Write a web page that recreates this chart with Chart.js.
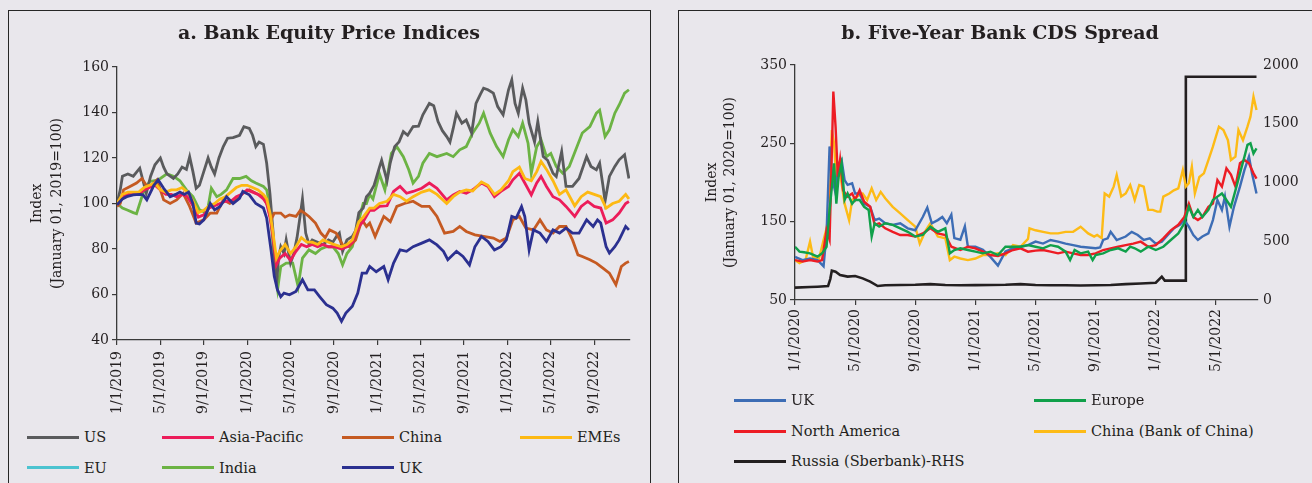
<!DOCTYPE html>
<html>
<head>
<meta charset="utf-8">
<script src="https://cdn.jsdelivr.net/npm/chart.js@4/dist/chart.umd.min.js"></script>
<style>
  body { margin:0; background:#e9e7ec; width:1312px; height:483px; overflow:hidden; position:relative; font-family:'DejaVu Serif', serif; color:#231f20; }
  .panel { position:absolute; top:10px; height:490px; border:1.6px solid #262626; border-bottom:none; box-sizing:border-box; }
  #panelA { left:8px; width:643px; }
  #panelB { left:678px; width:700px; }
  canvas { position:absolute; }
  #equityChart { left:9px; top:12px; }
  #cdsChart { left:684px; top:12px; }
  .lg { position:absolute; display:flex; align-items:center; font-size:14.5px; white-space:nowrap; transform:translateY(-50%); }
  .lg span.sw { display:inline-block; width:52px; height:3px; margin-right:5px; }
</style>
</head>
<body>
<div class="panel" id="panelA"></div>
<div class="panel" id="panelB"></div>
<canvas id="equityChart" width="640" height="410"></canvas>
<canvas id="cdsChart" width="632" height="410"></canvas>
<div id="legendA"></div>
<div id="legendB"></div>
<script>
(function(){
  'use strict';

  // ---- panel a: bank equity price indices (x = months since 1 Jan 2019) ----
  const equityTickMonths = [0, 4, 8, 12, 16, 20, 24, 28, 32, 36, 40, 44];
  const equityTickLabels = ['1/1/2019','5/1/2019','9/1/2019','1/1/2020','5/1/2020','9/1/2020',
    '1/1/2021','5/1/2021','9/1/2021','1/1/2022','5/1/2022','9/1/2022'];

  const eqUS = [[0,100],[0.3,106],[0.5,112],[1,113],[1.5,112],[2.1,115.5],[2.4,110],[2.7,104.5],[3.1,112],[3.5,117],[4,120],[4.3,116],[4.6,113],[5.2,111],[5.6,113],[6,116],[6.4,115],[6.7,120.5],[7,114],[7.3,106.7],[7.6,108],[8,114],[8.4,120],[8.7,116],[9,113],[9.4,120],[9.8,125],[10.2,128.7],[10.7,129],[11.3,130],[11.7,133.8],[12.2,133],[12.5,130],[12.8,125],[13.1,127],[13.5,126],[13.8,117.7],[14.1,104.5],[14.4,87],[14.6,72],[14.75,67],[14.9,76],[15.1,81],[15.4,78],[15.6,84],[16,73.8],[16.3,78],[16.6,85],[16.9,95],[17.1,102],[17.4,87],[17.7,82],[18,84],[18.5,83],[19,82],[19.5,84],[19.9,83],[20.3,86],[20.5,87],[20.8,79],[21.2,84],[21.7,85.5],[22,88],[22.3,96],[22.7,98],[23,103],[23.3,104.5],[23.7,108],[24.2,116],[24.4,119],[24.9,110],[25.2,118],[25.6,125],[26,127],[26.4,131.6],[26.8,130],[27.3,133.8],[27.8,134],[28.2,139],[28.8,144],[29.2,143],[29.6,136],[30,132],[30.4,129.4],[30.7,127],[31,133],[31.3,139.7],[31.8,135.3],[32.2,136.7],[32.7,131],[33.1,144],[33.5,148],[33.8,150.7],[34.2,150],[34.7,148.5],[35.1,142.6],[35.6,139],[36.1,150],[36.4,154.3],[36.7,144],[37,139.7],[37.4,150.7],[37.7,145.5],[38,135.3],[38.5,127],[38.8,136],[39.3,120.6],[39.7,119],[40.2,113.3],[40.5,111.9],[41,122.8],[41.4,107.5],[42,107.5],[42.6,111],[43.3,120.6],[43.7,116.3],[44.2,114.8],[44.5,117.7],[44.8,108],[45,101],[45.4,111.9],[45.9,116.3],[46.3,119.2],[46.8,121.4],[47.2,111]];
  const eqAsiaPac = [[0,100],[0.5,103],[1,104],[1.5,104],[2,104],[2.5,106],[3,107],[3.5,108],[4,106],[4.5,104],[5,104],[5.5,103],[6,104],[6.5,103],[7,99],[7.5,94],[8,95],[8.5,98],[9,99],[9.5,100],[10,101],[10.5,101],[11,103],[11.5,104],[12,106],[12.5,105],[13,104],[13.5,102],[13.8,100],[14.1,94],[14.3,88],[14.7,73],[15,76],[15.5,78],[16,75],[16.5,79],[17,82],[17.5,81],[18,82],[18.5,81],[19,82],[19.5,81],[20,81],[20.7,80],[21.2,81],[21.7,83],[22.3,90],[22.7,92],[23.3,97],[23.7,97],[24.2,98.7],[24.9,99],[25.5,105.3],[26.1,107.5],[26.7,104.5],[27.3,105.3],[28.1,106.7],[28.8,109],[29.5,106.7],[30.4,101.6],[31,103.8],[31.6,105.3],[32.2,104.5],[32.8,106],[33.6,109],[34.2,107.5],[34.8,103],[35.4,105.3],[36.1,107.5],[36.5,110.4],[37.1,113.3],[37.6,109],[38.2,103.8],[38.7,109],[39.1,111.9],[39.6,107.5],[40.2,103],[40.8,101.6],[41.4,98.7],[42.2,94.3],[42.8,98.7],[43.4,100.9],[44,98.7],[44.6,98],[45.1,91.4],[45.7,92.8],[46.3,95.8],[46.9,100],[47.2,100.9]];
  const eqChina = [[0,98.7],[0.3,100],[0.6,106],[1.2,107.5],[1.8,109],[2.3,111],[2.7,108],[3.1,107.5],[3.7,110.4],[4.3,101.6],[4.9,100],[5.5,101.6],[6.1,104.5],[6.7,98.7],[7.3,91.4],[8,92.8],[8.6,95.8],[9.2,95.8],[9.8,101.6],[10.4,100],[11,101.6],[11.6,104.5],[12.2,106],[12.8,104.5],[13.5,103],[13.9,98.7],[14.2,92.8],[14.5,95.8],[15.1,95.8],[15.5,94],[15.9,95],[16.5,94.3],[16.9,97],[17.3,95.8],[17.7,94.3],[18.3,91.4],[18.8,87],[19.2,85],[19.6,88.4],[20.2,87],[20.8,81.8],[21.4,81],[22,84],[22.4,90],[22.6,92.8],[23,89.9],[23.3,91.4],[23.8,85.5],[24.2,90],[24.6,94.3],[25.2,92],[25.8,98.7],[26.5,100],[27.3,101],[28.1,98.7],[28.8,98.7],[29.5,94.3],[30.2,87],[31,87.7],[31.6,89.9],[32.2,87.7],[33,86.2],[33.8,85.5],[34.7,84.8],[35.3,83.3],[35.9,84.8],[36.5,92.8],[37.1,94.3],[37.7,89.2],[38.4,88.4],[39,92.8],[39.6,88.4],[40.2,87],[40.8,89.9],[41.4,89.9],[42,84],[42.5,77.4],[42.9,76.7],[43.6,75.3],[44.2,73.8],[44.8,71.6],[45.4,69.4],[46,64.3],[46.5,72.3],[46.9,73.8],[47.2,74.5]];
  const eqEMEs = [[0,100],[0.5,104],[1,105],[1.5,105],[2,105],[2.5,107],[3,108],[3.5,109],[4,106],[4.5,105],[5,106],[5.5,106],[6,107],[6.5,105],[7,101],[7.5,96],[8,97],[8.5,99],[9,100],[9.5,102],[10,103],[10.5,105],[11,107],[11.5,108],[12,108],[12.5,107],[13,106],[13.5,104],[13.8,102],[14.1,96],[14.3,90],[14.7,76],[15,79],[15.5,82],[16,78],[16.5,81],[17,85],[17.5,83],[18,83],[18.5,82],[19,84],[19.5,83],[20,82],[20.7,81],[21.2,82],[21.7,84],[22.3,92],[22.7,94],[23.3,98],[23.7,98],[24.2,100],[24.9,101],[25.5,104],[26.1,103],[26.7,101],[27.3,103],[28.1,105],[28.8,106],[29.5,104],[30.4,100],[31,103],[31.6,105],[32.2,106],[32.8,105.5],[33.6,109.5],[34.2,108],[34.8,104],[35.4,106],[36.1,110],[36.5,114],[37.1,116],[37.6,111],[38.2,110],[38.7,114],[39.1,118.5],[39.6,115],[40.2,110],[40.8,104],[41.4,106],[42.2,99],[42.8,103],[43.4,105],[44,104],[44.6,103],[45.1,98],[45.7,100],[46.3,101],[46.9,104],[47.2,102]];
  const eqEU = [];
  const eqIndia = [[0,100],[0.5,98],[1,97],[1.5,96],[1.8,95.5],[2.1,100],[2.4,104.5],[3,109.7],[3.5,110],[4,111],[4.6,113],[5.2,112],[5.8,110],[6.4,106],[7,103],[7.6,97.2],[8.3,95.8],[8.7,106.7],[9.2,103],[9.6,104],[10.1,106],[10.7,111],[11.3,111],[11.9,111.9],[12.4,110],[12.8,109],[13.5,107.5],[13.8,106],[14.1,98.7],[14.4,81],[14.7,65],[14.8,62],[15.1,72.3],[15.6,73.8],[16.2,73.8],[16.7,63.5],[17.1,76],[17.7,79.6],[18.3,78],[18.8,80],[19.3,81],[19.9,81],[20.4,78],[20.8,73],[21.2,78],[21.7,81],[22.3,92.8],[22.7,100],[23,100],[23.3,104],[23.6,102],[24.2,113],[24.7,106],[25.3,122],[25.8,125],[26.4,120.6],[26.9,114.8],[27.3,109],[27.8,111.9],[28.2,117.7],[28.8,122],[29.5,120.6],[30.4,122],[31,120.6],[31.6,123.6],[32.2,125],[32.8,131],[33.4,135.3],[33.8,139.7],[34.4,131],[35,125],[35.6,120.6],[36.1,128],[36.5,132.4],[37,129.4],[37.4,135.3],[37.9,126.5],[38.2,113.3],[38.7,125],[39.1,128],[39.6,120.6],[40,122],[40.5,116.3],[41.1,113.3],[41.7,116.3],[42.3,123.6],[42.9,131],[43.6,133.8],[44.2,139.7],[44.5,141],[45,129.4],[45.4,132.4],[45.9,139.7],[46.3,143.3],[46.8,148.5],[47.2,150]];
  const eqUK = [[0,99.4],[0.5,102],[0.9,103],[1.5,103.8],[2.1,104],[2.4,103.8],[2.75,101.6],[3.1,105],[3.4,108],[3.8,110.4],[4.3,106.7],[4.9,103],[5.4,104],[5.8,105],[6.2,104],[6.6,105],[7,100],[7.3,91.4],[7.6,91],[8,92.8],[8.6,100],[9,97.2],[9.5,98.7],[10.1,103],[10.7,100],[11.3,102.3],[11.6,105.3],[12.2,103.8],[12.8,100],[13.5,98],[13.8,93.6],[14.2,79.6],[14.5,68],[14.8,62],[15.1,59],[15.4,60.6],[15.9,59.9],[16.5,61.3],[17.1,66.5],[17.6,62],[18.2,62],[18.7,59],[19.3,55.5],[19.9,54],[20.3,51.8],[20.7,48.2],[21.1,51.8],[21.7,54.8],[22.2,60.6],[22.6,69.4],[23,69.4],[23.3,72.3],[23.9,70],[24.6,72.3],[25,66.5],[25.5,73.8],[26.1,79.6],[26.7,79],[27.3,81],[28.1,82.6],[28.8,84],[29.5,81.8],[30.1,79],[30.5,75.3],[31.3,79],[31.9,76.7],[32.5,73],[33,81],[33.6,85.5],[34.2,83.3],[34.8,79.6],[35.4,81],[35.9,84],[36.4,94.3],[36.8,93.6],[37.3,98.7],[37.6,94.3],[38,79.6],[38.4,88.4],[39,87],[39.6,83.3],[40.2,88.4],[40.8,87],[41.4,89.2],[42,87],[42.6,87],[43.3,92.8],[43.9,89.9],[44.3,92.8],[44.6,91.4],[45.1,81],[45.4,78.2],[45.9,81],[46.3,84],[46.9,89.9],[47.2,88.4]];

  // ---- panel b: five-year bank CDS spread (x = months since 1 Jan 2020) ----
  const cdsTickMonths = [0, 4, 8, 12, 16, 20, 24, 28];
  const cdsTickLabels = ['1/1/2020','5/1/2020','9/1/2020','1/1/2021','5/1/2021','9/1/2021','1/1/2022','5/1/2022'];

  const cdsUK = [[0,105],[0.5,101],[1,103],[1.5,101],[1.9,93],[2.1,135],[2.3,246],[2.5,203],[2.7,186],[2.9,224],[3.1,229],[3.3,203],[3.5,197],[3.8,199],[4,186],[4.3,186],[4.6,173],[5,169],[5.3,152],[5.6,154],[6,148],[6.5,146],[7,148],[7.5,141.5],[8,139],[8.5,156],[8.8,168],[9.1,148],[9.5,152],[9.8,156],[10.1,148],[10.4,159],[10.6,129],[11,127],[11.3,144],[11.5,118],[12,118],[12.5,114],[13,105],[13.5,94],[14,112],[14.5,116],[15,118],[15.5,120],[16,124.5],[16.5,122],[17,126.6],[17.5,124.5],[18,122],[18.5,120],[19,118],[19.5,117],[20,116],[20.3,117],[20.5,126.6],[20.8,128.7],[21,137],[21.4,126.6],[22,131],[22.4,137],[22.8,133],[23.2,126.6],[23.6,128.7],[24,122],[24.4,124.5],[24.8,133],[25.2,141.5],[25.6,146],[25.9,152],[26.2,143.6],[26.5,133],[26.8,126.6],[27.1,131],[27.5,135],[27.8,152],[28.1,177.7],[28.4,165],[28.6,182],[28.9,143.6],[29.2,169],[29.6,194.7],[29.9,216],[30.2,233],[30.4,211.7],[30.7,186]];
  const cdsEurope = [[0,118],[0.3,111.7],[0.6,111],[1,109.6],[1.5,105.3],[1.8,109.6],[2.1,118],[2.3,165],[2.5,203],[2.6,224.5],[2.75,173],[2.9,207],[3.1,224.5],[3.3,177.7],[3.5,186],[3.8,173],[4,177.7],[4.3,177.7],[4.6,169],[4.9,165],[5.1,131],[5.3,148],[5.6,143.6],[6,148],[6.5,146],[7,141.5],[7.5,137],[8,131],[8.5,133],[9,143.6],[9.5,137],[10,141.5],[10.3,109.6],[10.6,113.8],[11,116],[11.5,113.8],[12,111.7],[12.5,109.6],[13,111.7],[13.5,107.4],[14,118],[14.5,118],[15,118],[15.5,120],[16,118],[16.5,116],[17,120],[17.5,118],[18,111.7],[18.3,101],[18.6,113.8],[19,109.6],[19.5,111.7],[19.8,101],[20,107.4],[20.5,109.6],[21,113.8],[21.5,116],[22,111.7],[22.3,118],[22.6,116],[23,111.7],[23.5,118],[24,113.8],[24.5,118],[25,126.6],[25.5,135],[25.9,148],[26.2,169],[26.5,156],[26.8,165],[27.1,156],[27.5,165],[27.8,177.7],[28.1,182],[28.4,186],[28.7,177.7],[29,169],[29.3,190],[29.6,211.7],[29.9,233],[30.1,248],[30.3,250],[30.5,237],[30.7,243.6]];
  const cdsNorthAm = [[0,101],[0.5,99],[1,101],[1.5,99],[1.8,101],[2.1,139],[2.3,127],[2.45,237],[2.55,316],[2.7,271],[2.85,207],[3,229],[3.2,190],[3.5,182],[3.8,186],[4,178],[4.3,190],[4.6,175.5],[5,169],[5.3,146],[5.6,148],[6,141.5],[6.5,137],[7,133],[7.5,133],[8,131],[8.5,135],[9,141.5],[9.5,135],[10,133],[10.4,118],[11,113.8],[11.5,118],[12,116],[12.5,111.7],[13,107.4],[13.5,106],[14,109.6],[14.5,113.8],[15,116],[15.5,111.7],[16,113],[16.5,113.8],[17,111.7],[17.5,109.6],[18,111.7],[18.5,109.6],[19,107.4],[19.5,107.4],[20,109.6],[20.5,113.8],[21,116],[21.5,118],[22,120],[22.5,122],[23,124.5],[23.5,118],[24,120],[24.5,128.7],[25,139],[25.5,146],[25.9,156],[26.2,173],[26.5,156],[26.8,152],[27.1,156],[27.5,169],[27.8,173],[28.1,203],[28.4,194.7],[28.7,218],[29,210],[29.3,194.7],[29.6,224.5],[29.9,228.7],[30.2,224.5],[30.5,211.7],[30.7,205]];
  const cdsChina = [[0,101],[0.3,97],[0.7,101],[1,124.5],[1.2,105],[1.6,103],[1.9,126.6],[2.1,141.5],[2.3,169],[2.45,267],[2.6,250],[2.75,203],[2.9,220],[3.1,199],[3.3,173],[3.6,152],[3.8,177.7],[4.1,182],[4.5,186],[4.8,177.7],[5.1,192.6],[5.4,177.7],[5.7,188],[6,180],[6.5,169],[7,160.6],[7.5,152],[8,143.6],[8.3,122],[8.7,139],[9,148],[9.5,131],[10,128.7],[10.3,101],[10.6,105.3],[11,103],[11.5,101],[12,103],[12.5,107.4],[13,107.4],[13.5,109.6],[14,107.4],[14.5,120],[15,118],[15.5,128],[15.6,141.5],[16,139],[16.5,137],[17,135],[17.5,135],[18,137],[18.5,137],[19,143.6],[19.5,135],[19.9,131],[20.1,133],[20.4,129],[20.6,186],[20.9,182],[21.2,194.7],[21.4,209.6],[21.7,182],[22,186],[22.3,196.8],[22.6,177.7],[22.9,196.8],[23.2,194.7],[23.5,165],[23.8,165],[24.1,162.8],[24.3,162.8],[24.5,182],[24.9,186],[25.2,190],[25.5,192.6],[25.8,216],[26,194.7],[26.2,199],[26.4,220],[26.6,186],[26.9,207],[27.2,211.7],[27.5,228.7],[27.8,245.7],[28,258.5],[28.2,271.3],[28.5,267],[28.8,254],[29,228.7],[29.3,233],[29.5,267],[29.8,254],[30.1,271.3],[30.3,284],[30.5,309.6],[30.7,292.6]];
  const cdsRussia = [[0,105],[1,110],[1.5,113],[2.2,119],[2.35,180],[2.45,250],[2.7,241],[3,213],[3.5,199],[4,204],[4.5,184],[5,156],[5.5,119],[6,125],[7,128],[8,130],[9,135],[10,128],[11,125],[12,127],[13,128],[14,130],[15,135],[16,128],[17,126],[18,125],[19,124],[20,125],[21,128],[22,135],[23,140],[24,147],[24.4,199],[24.6,165],[25,165],[25.95,165],[26,1900],[30.7,1900]];

  const FONT = "'DejaVu Serif', serif";
  const INK = '#231f20';
  const AXIS = '#3a3a3a';

  Chart.defaults.font.family = FONT;
  Chart.defaults.color = INK;

  function pts(arr){ return arr.map(p => ({ x: p[0], y: p[1] })); }

  function line(label, arr, color, order, width, axis){
    return {
      label: label, data: pts(arr), borderColor: color, backgroundColor: color,
      borderWidth: width, pointRadius: 0, tension: 0, order: order,
      yAxisID: axis || 'y'
    };
  }

  function tickFont(){ return { family: FONT, size: 14 }; }

  // Equity chart
  const eqSets = [
    line('US', eqUS, '#5a5b5d', 5, 2.8),
    line('Asia-Pacific', eqAsiaPac, '#ec1c5a', 3, 2.8),
    line('China', eqChina, '#c55a22', 4, 2.8),
    line('EMEs', eqEMEs, '#fdb913', 2, 2.8),
    line('EU', eqEU, '#4cc3d0', 7, 2.8),
    line('India', eqIndia, '#6cb344', 6, 2.8),
    line('UK', eqUK, '#2b3090', 1, 2.8)
  ];

  const eqChart = new Chart(document.getElementById('equityChart'), {
    type: 'line',
    data: { datasets: eqSets },
    options: {
      responsive: false, animation: false,
      layout: { padding: 0 },
      plugins: {
        legend: { display: false },
        tooltip: { enabled: false },
        title: {
          display: true, text: 'a. Bank Equity Price Indices', color: INK,
          font: { family: FONT, size: 19, weight: 'bold' },
          padding: { top: 11, bottom: 21.2 }
        }
      },
      scales: {
        x: {
          type: 'linear', min: 0, max: 47.3,
          afterBuildTicks: s => { s.ticks = equityTickMonths.map(v => ({ value: v })); },
          afterFit: s => { s.height = 82; },
          ticks: {
            autoSkip: false, minRotation: 90, maxRotation: 90, padding: 6, color: INK,
            font: tickFont(), callback: (v, i) => equityTickLabels[i]
          },
          grid: { drawOnChartArea: false, drawTicks: true, tickLength: 5, color: AXIS, lineWidth: 1.2 },
          border: { color: AXIS, width: 1.3 }
        },
        y: {
          min: 40, max: 160,
          afterFit: s => { s.width = 108; },
          ticks: { stepSize: 20, padding: 3, color: INK, font: tickFont() },
          grid: { drawOnChartArea: false, drawTicks: true, tickLength: 5, color: AXIS, lineWidth: 1.2 },
          border: { color: AXIS, width: 1.3 },
          title: {
            display: true, text: ['Index', '(January 01, 2019=100)'], color: INK,
            font: { family: FONT, size: 14, lineHeight: 1.43 },
            padding: { top: 18, bottom: 0 }
          }
        },
        // empty right-hand spacer so the title stays centred on the whole panel
        spacer: {
          position: 'right', min: 0, max: 1,
          afterFit: s => { s.width = 19; },
          ticks: { display: false },
          grid: { display: false, drawTicks: false },
          border: { display: false }
        }
      }
    }
  });

  // CDS chart
  const cdsSets = [
    line('UK', cdsUK, '#3d6db5', 3, 2.4),
    line('Europe', cdsEurope, '#10a04a', 1, 2.4),
    line('North America', cdsNorthAm, '#ed1c24', 2, 2.4),
    line('China (Bank of China)', cdsChina, '#fdbb16', 4, 2.4),
    line('Russia (Sberbank)-RHS', cdsRussia, '#231f20', 5, 2.6, 'y2')
  ];

  const cdsChart = new Chart(document.getElementById('cdsChart'), {
    type: 'line',
    data: { datasets: cdsSets },
    options: {
      responsive: false, animation: false,
      layout: { padding: 0 },
      plugins: {
        legend: { display: false },
        tooltip: { enabled: false },
        title: {
          display: true, text: 'b. Five-Year Bank CDS Spread', color: INK,
          font: { family: FONT, size: 19, weight: 'bold' },
          padding: { top: 11, bottom: 19.2 }
        }
      },
      scales: {
        x: {
          type: 'linear', min: 0, max: 30.8,
          afterBuildTicks: s => { s.ticks = cdsTickMonths.map(v => ({ value: v })); },
          afterFit: s => { s.height = 122; },
          ticks: {
            autoSkip: false, minRotation: 90, maxRotation: 90, padding: 4, color: INK,
            font: tickFont(), callback: (v, i) => cdsTickLabels[i]
          },
          grid: { drawOnChartArea: false, drawTicks: true, tickLength: 5, color: AXIS, lineWidth: 1.2 },
          border: { color: AXIS, width: 1.3 }
        },
        y: {
          position: 'left', min: 50, max: 350,
          afterFit: s => { s.width = 111; },
          ticks: { stepSize: 100, padding: 3, color: INK, font: tickFont() },
          grid: { drawOnChartArea: false, drawTicks: true, tickLength: 5, color: AXIS, lineWidth: 1.2 },
          border: { color: AXIS, width: 1.3 },
          title: {
            display: true, text: ['Index', '(January 01, 2020=100)'], color: INK,
            font: { family: FONT, size: 14, lineHeight: 1.286 },
            padding: { top: 19, bottom: 0 }
          }
        },
        y2: {
          position: 'right', min: 0, max: 2000,
          afterFit: s => { s.width = 58; },
          ticks: { stepSize: 500, padding: 5, color: INK, font: tickFont(), callback: v => String(v) },
          grid: { display: false, drawOnChartArea: false, drawTicks: false },
          border: { display: false }
        }
      }
    }
  });

  // HTML legends built from the chart datasets
  const legendSlotsA = [
    { label: 'US', left: 27, top: 437 }, { label: 'Asia-Pacific', left: 162, top: 437 },
    { label: 'China', left: 342, top: 437 }, { label: 'EMEs', left: 520, top: 437 },
    { label: 'EU', left: 27, top: 467.5 }, { label: 'India', left: 162, top: 467.5 },
    { label: 'UK', left: 342, top: 467.5 }
  ];
  const legendSlotsB = [
    { label: 'UK', left: 734, top: 400 }, { label: 'Europe', left: 1034, top: 400 },
    { label: 'North America', left: 734, top: 431 }, { label: 'China (Bank of China)', left: 1034, top: 431 },
    { label: 'Russia (Sberbank)-RHS', left: 734, top: 461 }
  ];

  function buildLegend(chart, slots, hostId){
    const host = document.getElementById(hostId);
    slots.forEach(s => {
      const ds = chart.data.datasets.find(d => d.label === s.label);
      if (!ds) return;
      const el = document.createElement('div');
      el.className = 'lg';
      el.style.left = s.left + 'px';
      el.style.top = s.top + 'px';
      el.innerHTML = '<span class="sw" style="background:' + ds.borderColor + '"></span><span>' + ds.label + '</span>';
      host.appendChild(el);
    });
  }

  buildLegend(eqChart, legendSlotsA, 'legendA');
  buildLegend(cdsChart, legendSlotsB, 'legendB');
})();
</script>
</body>
</html>
